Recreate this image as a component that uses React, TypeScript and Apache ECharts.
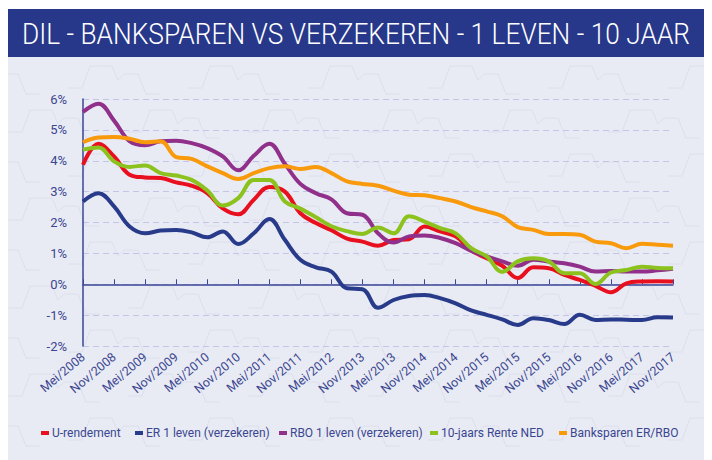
import React, { useEffect, useRef } from "react";
import * as echarts from "echarts";

const title = "DIL - BANKSPAREN VS VERZEKEREN - 1 LEVEN - 10 JAAR";
const xLabels = [
  "Mei/2008", "Nov/2008", "Mei/2009", "Nov/2009", "Mei/2010", "Nov/2010", "Mei/2011", "Nov/2011",
  "Mei/2012", "Nov/2013", "Mei/2013", "Nov/2014", "Mei/2014", "Nov/2015", "Mei/2015", "Nov/2015",
  "Mei/2016", "Nov/2016", "Mei/2017", "Nov/2017",
];
const yTicks = [-2, -1, 0, 1, 2, 3, 4, 5, 6];

// values at half-step positions (0, 0.5, 1, ... 19)
const uRendement = [
  3.87, 4.55, 4.14, 3.55, 3.46, 3.44, 3.3, 3.19, 2.95, 2.46, 2.27, 2.74, 3.15, 3.0, 2.3, 1.98, 1.75, 1.48, 1.38, 1.25,
  1.43, 1.46, 1.87, 1.71, 1.55, 1.1, 0.84, 0.6, 0.2, 0.55, 0.52, 0.3, 0.14, -0.05, -0.26, 0.03, 0.09, 0.1, 0.09,
];
const er1Leven = [
  2.68, 2.95, 2.52, 1.87, 1.65, 1.74, 1.76, 1.68, 1.52, 1.71, 1.3, 1.65, 2.11, 1.44, 0.79, 0.55, 0.41, -0.13, -0.16, -0.76,
  -0.51, -0.38, -0.35, -0.45, -0.62, -0.85, -0.99, -1.14, -1.32, -1.1, -1.16, -1.29, -0.99, -1.16, -1.14, -1.15, -1.16, -1.07, -1.08,
];
const rbo1Leven = [
  5.58, 5.85, 5.3, 4.63, 4.5, 4.63, 4.65, 4.57, 4.41, 4.14, 3.69, 4.16, 4.55, 3.9, 3.25, 2.95, 2.75, 2.3, 2.25, 1.65,
  1.35, 1.55, 1.58, 1.5, 1.33, 1.08, 0.9, 0.74, 0.6, 0.79, 0.74, 0.68, 0.57, 0.41, 0.43, 0.41, 0.41, 0.45, 0.5,
];
const rente10Ned = [
  4.36, 4.43, 3.98, 3.8, 3.85, 3.6, 3.52, 3.38, 3.04, 2.55, 2.79, 3.38, 3.38, 2.68, 2.45, 2.17, 1.88, 1.72, 1.63, 1.84,
  1.65, 2.2, 2.03, 1.82, 1.65, 1.17, 0.9, 0.4, 0.74, 0.84, 0.74, 0.36, 0.36, 0.01, 0.38, 0.46, 0.57, 0.53, 0.52,
];
const banksparen = [
  4.6, 4.75, 4.77, 4.71, 4.6, 4.63, 4.12, 4.06, 3.82, 3.6, 3.41, 3.6, 3.76, 3.82, 3.73, 3.8, 3.6, 3.33, 3.25, 3.19,
  3.03, 2.9, 2.88, 2.79, 2.68, 2.5, 2.36, 2.2, 1.85, 1.76, 1.63, 1.63, 1.6, 1.38, 1.33, 1.17, 1.31, 1.28, 1.25,
];

const seriesNames = [
  "U-rendement",
  "ER 1 leven (verzekeren)",
  "RBO 1 leven (verzekeren)",
  "10-jaars Rente NED",
  "Banksparen ER/RBO",
];
const seriesData = [uRendement, er1Leven, rbo1Leven, rente10Ned, banksparen];
const colors = ["#e8101e", "#283a8a", "#91308a", "#8cc21e", "#f89a0c"];
const legendLefts = [33, 127, 271, 422, 551];

const FONT = "Roboto, sans-serif";
const TITLE_FONT = "300 30px Roboto";

// decorative background motif (relative polyline)
const motif = [[0, 28], [14, 28], [22, 6], [44, 6], [50, 20], [56, 14], [70, 14], [78, 34], [92, 34]];

function measure(text: string, font: string): number {
  const c = document.createElement("canvas").getContext("2d");
  if (!c) return 830;
  c.font = font;
  return c.measureText(text).width || 830;
}

function backgroundPattern() {
  const els: any[] = [];
  let row = 0;
  for (let y = 52; y < 440; y += 44, row++) {
    for (let x = -60 + (row % 2) * 60; x < 704; x += 120) {
      els.push({
        type: "polyline",
        silent: true,
        z: -8,
        shape: { points: motif.map(([a, b]) => [x + a, y + b]) },
        style: { stroke: "#dcdfec", lineWidth: 1, fill: null },
      });
    }
  }
  return els;
}

export default function App() {
  const ref = useRef<HTMLDivElement>(null);
  useEffect(() => {
    if (!ref.current) return;
    const chart = echarts.init(ref.current, null, { renderer: "svg" });
    const titleScale = 668 / measure(title, TITLE_FONT);
    chart.setOption({
      animation: false,
      backgroundColor: "#ffffff",
      graphic: [
        { type: "rect", shape: { x: 0, y: 1, width: 704, height: 451 }, style: { fill: "#e9ebf4" }, z: -10 },
        {
          type: "group",
          z: -8,
          clipPath: { type: "rect", shape: { x: 0, y: 49, width: 704, height: 403 } } as any,
          children: backgroundPattern(),
        },
        { type: "rect", shape: { x: 0, y: 1, width: 704, height: 48 }, style: { fill: "#27388a" }, z: -7 },
        {
          type: "text",
          x: 348,
          y: 26,
          scaleX: titleScale,
          style: {
            text: title,
            fill: "#ffffff",
            font: TITLE_FONT,
            textAlign: "center",
            textVerticalAlign: "middle",
          },
          z: 5,
        },
      ],
      grid: { left: 75, right: 39, top: 91, bottom: 114, containLabel: false },
      legend: seriesNames.map((name, k) => ({
        top: 419,
        left: legendLefts[k],
        padding: 0,
        itemWidth: 8,
        itemHeight: 4,
        icon: "rect",
        textStyle: { color: "#3a4690", fontSize: 12, fontFamily: FONT, padding: [0, 0, 0, -2] },
        data: [name],
      })),
      xAxis: {
        type: "value",
        min: 0,
        max: 19,
        interval: 1,
        axisLine: { lineStyle: { color: "#3a4596", width: 1.5 } },
        axisTick: { show: true, inside: true, length: 5, lineStyle: { color: "#3a4596" } },
        splitLine: { show: false },
        axisLabel: {
          rotate: 40,
          color: "#3a4690",
          fontSize: 12.5,
          fontFamily: FONT,
          margin: 9,
          formatter: (v: number) => xLabels[Math.round(v)] ?? "",
        },
      },
      yAxis: {
        type: "value",
        min: yTicks[0],
        max: yTicks[yTicks.length - 1],
        interval: 1,
        axisLine: { show: true, lineStyle: { color: "#3a4596", width: 1.5 } },
        axisTick: { show: false },
        splitLine: { lineStyle: { color: "#c3c5e6", type: [6, 4], width: 1 } },
        axisLabel: {
          color: "#3a4690",
          fontSize: 13,
          fontFamily: FONT,
          margin: 16,
          formatter: (v: number) => v + "%",
        },
      },
      series: seriesNames.map((name, k) => ({
        name,
        type: "line",
        smooth: 0.4,
        symbol: "none",
        lineStyle: { width: 4, color: colors[k] },
        itemStyle: { color: colors[k] },
        data: seriesData[k].map((v, j) => [j / 2, v]),
      })),
    });
    return () => chart.dispose();
  }, []);
  return <div ref={ref} style={{ width: 704, height: 452 }} />;
}
